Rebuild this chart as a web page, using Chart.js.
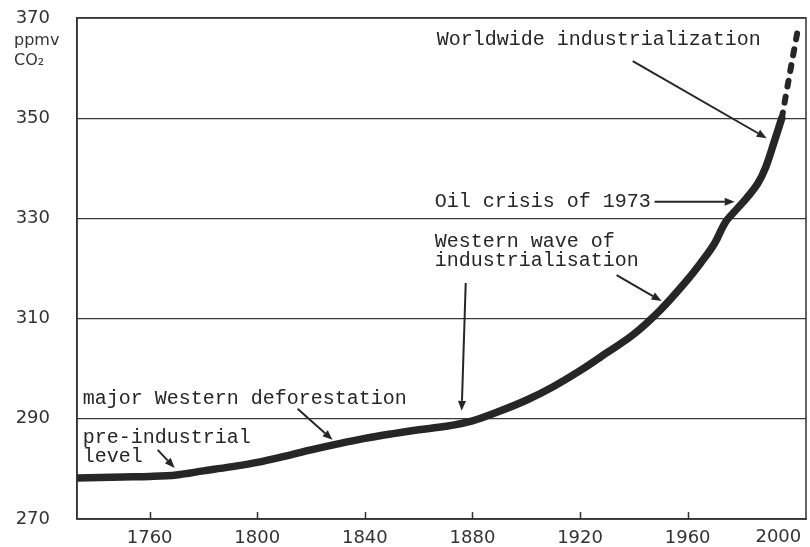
<!DOCTYPE html>
<html>
<head>
<meta charset="utf-8">
<script src="https://cdn.jsdelivr.net/npm/chart.js@4.4.1/dist/chart.umd.min.js"></script>
<style>
html,body{margin:0;padding:0;background:#fff;}
#wrap{width:810px;height:547px;position:relative;}
</style>
</head>
<body>
<div id="wrap"><canvas id="c" width="810" height="547"></canvas></div>
<script>
// ---- data ----
const years = [1733,1750,1760,1770,1780,1790,1800,1810,1820,1830,1840,1850,1860,1870,1880,1890,1900,1910,1920,1930,1940,1950,1960,1965,1970,1974,1978,1982,1986,1989,1992,1995];
const co2   = [278.2,278.4,278.5,278.8,279.6,280.4,281.3,282.5,283.8,285.0,286.1,287.0,287.8,288.5,289.6,291.5,293.7,296.4,299.6,303.2,306.9,311.8,317.8,321.2,325.0,329.2,331.7,334.1,336.9,340.2,345.0,350.0];
const projYears = [1995,1998,2001];
const projCo2   = [350.0,359.0,367.8];
const xTicks = [1760,1800,1840,1880,1920,1960,2000];
const yTicks = [270,290,310,330,350,370];
const yUnit = ['ppmv','CO₂'];

// annotations in data units
const notes = [
  {lines:['Worldwide industrialization'], x:1866.7, y:365.6},
  {lines:['Oil crisis of 1973'], x:1866.0, y:333.3},
  {lines:['Western wave of','industrialisation'], x:1866.0, y:325.3},
  {lines:['major Western deforestation'], x:1735.1, y:294.0},
  {lines:['pre-industrial','level'], x:1735.1, y:286.2}
];
const arrows = [
  {x1:1939.6,y1:361.4,x2:1989.4,y2:346.0},
  {x1:1947.7,y1:333.3,x2:1977.5,y2:333.3},
  {x1:1933.6,y1:318.7,x2:1950.3,y2:313.5},
  {x1:1877.5,y1:317.1,x2:1876.0,y2:291.6},
  {x1:1815.0,y1:292.0,x2:1828.0,y2:285.8},
  {x1:1763.0,y1:283.8,x2:1769.3,y2:280.2}
];

const INK = '#262626';
const tickFont = '18px "DejaVu Sans"';
const noteFont = '20px "Liberation Mono"';

const overlay = {
  id:'overlay',
  afterDraw(chart){
    const ctx = chart.ctx, a = chart.chartArea;
    const xs = chart.scales.x, ys = chart.scales.y;
    ctx.save();
    ctx.strokeStyle = '#333'; ctx.lineWidth = 1.5;
    ctx.strokeRect(a.left, a.top, a.right - a.left, a.bottom - a.top);
    ctx.lineWidth = 1.5;
    xTicks.forEach(v=>{
      if (v >= 2000) return;
      const px = Math.round(xs.getPixelForValue(v))+0.5;
      ctx.beginPath(); ctx.moveTo(px, a.bottom); ctx.lineTo(px, a.bottom-7); ctx.stroke();
    });
    ctx.fillStyle = '#333'; ctx.font = tickFont;
    ctx.textAlign = 'right'; ctx.textBaseline = 'middle';
    ctx.fillText(String(xTicks[xTicks.length-1]), xs.getPixelForValue(2000)+6, a.bottom+18);
    ctx.textAlign = 'left'; ctx.font = '16px "DejaVu Sans"';
    const y370 = ys.getPixelForValue(370);
    yUnit.forEach((t,i)=> ctx.fillText(t, 14, y370 + 23 + i*20));
    ctx.fillStyle = INK; ctx.font = noteFont; ctx.textBaseline = 'middle';
    notes.forEach(n=>{
      const px = xs.getPixelForValue(n.x), py = ys.getPixelForValue(n.y);
      n.lines.forEach((t,i)=> ctx.fillText(t, px, py + i*19));
    });
    ctx.strokeStyle = INK; ctx.fillStyle = INK; ctx.lineWidth = 2;
    arrows.forEach(r=>{
      const x1 = xs.getPixelForValue(r.x1), y1 = ys.getPixelForValue(r.y1);
      const x2 = xs.getPixelForValue(r.x2), y2 = ys.getPixelForValue(r.y2);
      const ang = Math.atan2(y2-y1, x2-x1), L = 10, W = 4;
      const bx = x2 - L*Math.cos(ang), by = y2 - L*Math.sin(ang);
      ctx.beginPath(); ctx.moveTo(x1,y1); ctx.lineTo(bx,by); ctx.stroke();
      ctx.beginPath();
      ctx.moveTo(x2,y2);
      ctx.lineTo(bx + W*Math.sin(ang), by - W*Math.cos(ang));
      ctx.lineTo(bx - W*Math.sin(ang), by + W*Math.cos(ang));
      ctx.closePath(); ctx.fill();
    });
    ctx.restore();
  }
};

new Chart(document.getElementById('c'), {
  type:'line',
  data:{
    datasets:[
      {data: years.map((x,i)=>({x, y:co2[i]})), borderColor:INK, borderWidth:7.5,
       pointRadius:0, tension:0.35, borderCapStyle:'round', borderJoinStyle:'round'},
      {data: projYears.map((x,i)=>({x, y:projCo2[i]})), borderColor:INK, borderWidth:6,
       pointRadius:0, borderDash:[6,10], borderCapStyle:'round', tension:0.2}
    ]
  },
  options:{
    responsive:false, animation:false,
    layout:{padding:{top:18, right:4, left:0, bottom:0}},
    plugins:{legend:{display:false}, tooltip:{enabled:false}},
    scales:{
      x:{type:'linear', min:1733, max:2004,
         afterBuildTicks(s){ s.ticks = xTicks.map(v=>({value:v})); },
         afterFit(s){ s.height = 28; s.paddingLeft = 0; s.paddingRight = 0; },
         grid:{display:false, drawTicks:false},
         border:{display:true, color:'#333', width:1.5},
         ticks:{padding:9, maxRotation:0, autoSkip:false, color:'#333', font:{family:'DejaVu Sans', size:18},
                callback:(v)=> v>=2000 ? '' : String(v)}},
      y:{type:'linear', min:270, max:370,
         afterBuildTicks(s){ s.ticks = yTicks.map(v=>({value:v})); },
         afterFit(s){ s.width = 77; s.paddingTop = 0; s.paddingBottom = 0; },
         grid:{color:'#3a3a3a', lineWidth:1.2, drawTicks:false},
         border:{display:true, color:'#333', width:1.5},
         ticks:{padding:27, color:'#333', font:{family:'DejaVu Sans', size:18}, callback:(v)=>String(v)}}
    }
  },
  plugins:[overlay]
});
</script>
</body>
</html>
